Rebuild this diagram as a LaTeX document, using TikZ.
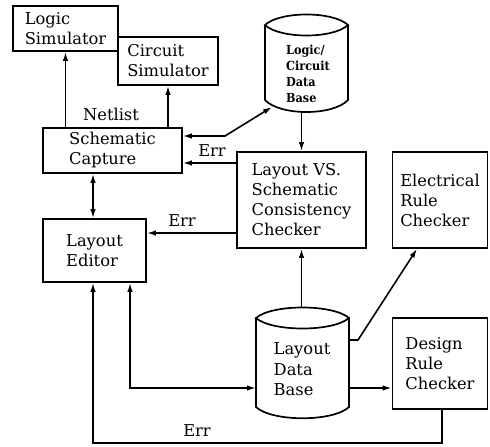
\documentclass[tikz,border=0pt]{standalone}
\usepackage{fontspec}
\setmainfont{DejaVu Serif}
\newfontfamily\dbfont{DejaVu Serif Condensed}
\usetikzlibrary{arrows.meta}

\begin{document}
\begin{tikzpicture}[x=1pt, y=-1pt, line width=1.6pt,
  tip/.tip={Latex[length=9pt,width=5.5pt]},
  box/.style={draw, line width=1.7pt, align=left, inner sep=0pt,
    font=\fontsize{16.3}{20}\selectfont},
  dbtext/.style={align=left, inner sep=0pt},
  lbl/.style={inner sep=0pt, font=\fontsize{16.3}{20}\selectfont},
  arr/.style={-tip},
  dbl/.style={tip-tip},
  drum/.style={line width=1.7pt}]
\useasboundingbox (0,0) rectangle (490,447);

% ---- boxes ----
\node[box, minimum width=105pt, minimum height=45pt] (logsim) at (65.5,28.5) {Logic\\Simulator};
\node[box, minimum width=100pt, minimum height=48pt] (cirsim) at (168,61) {Circuit\\Simulator};
\node[box, minimum width=139pt, minimum height=45pt] (schcap) at (112.5,150.5) {Schematic\\Capture};
\node[box, minimum width=129pt, minimum height=96pt] (lvs) at (301.5,200) {Layout VS.\\Schematic\\Consistency\\Checker};
\node[box, minimum width=95pt, minimum height=96pt] (erc) at (440,200) {Electrical\\Rule\\Checker};
\node[box, minimum width=103pt, minimum height=63pt] (layed) at (94.5,250.5) {Layout\\Editor};
\node[box, minimum width=95pt, minimum height=91pt] (drc) at (440,363.5) {Design\\Rule\\Checker};

% ---- logic / circuit data base drum ----
\draw[drum] (265,25) .. controls (280,11) and (333,11) .. (348,25)
            .. controls (333,39) and (280,39) .. (265,25) -- cycle;
\draw[drum] (265,25) -- (265,100) .. controls (280,116) and (333,116) .. (348,100) -- (348,25);
\node[dbtext, font=\dbfont\bfseries\fontsize{12.5}{16}\selectfont] (lcdb) at (308,74) {Logic/\\Circuit\\Data\\Base};
\coordinate (lcdbin) at (272,107);
\coordinate (lcdbout) at (301.5,111.5);

% ---- layout data base drum ----
\draw[drum] (256,318) .. controls (272,304) and (333,304) .. (349,318)
            .. controls (333,332) and (272,332) .. (256,318) -- cycle;
\draw[drum] (256,318) -- (256,407) .. controls (272,422) and (333,422) .. (349,407) -- (349,318);
\node[dbtext, font=\fontsize{16.3}{20.5}\selectfont] (ldb) at (302,369.5) {Layout\\Data\\Base};
\coordinate (ldbtop) at (301.5,308);
\coordinate (ldbl) at (256,388);
\coordinate (ldbr1) at (349,340);
\coordinate (ldbr2) at (349,388);

% ---- connectors ----
\draw[arr] (logsim.south |- schcap.north) -- (logsim.south);
\draw[arr] (cirsim.south |- schcap.north) -- (cirsim.south);
\node[lbl] (netlist) at (111,114) {Netlist};

\draw[dbl] (schcap.east |- 0,136) -- (225,136) -- (lcdbin);
\draw[arr] (lvs.west |- 0,163) -- (schcap.east |- 0,163);
\node[lbl] (err1) at (212,151) {Err};

\draw[arr] (lcdbout) -- (lvs.north);
\draw[dbl] (schcap.south -| 93,0) -- (layed.north -| 93,0);

\draw[arr] (lvs.west |- 0,233) -- (layed.east |- 0,233);
\node[lbl] (err2) at (182,221) {Err};

\draw[arr] (ldbtop) -- (lvs.south);
\draw[arr] (ldbr1) -- (358,340) -- (erc.south -| 417,0);
\draw[arr] (ldbr2) -- (drc.west |- 0,388);
\draw[dbl] (layed.south -| 130,0) |- (ldbl);

\draw[arr] (drc.south -| 442,0) -- (442,443) -| (layed.south -| 93,0);
\node[lbl] (err3) at (197,431) {Err};
\end{tikzpicture}
\end{document}
